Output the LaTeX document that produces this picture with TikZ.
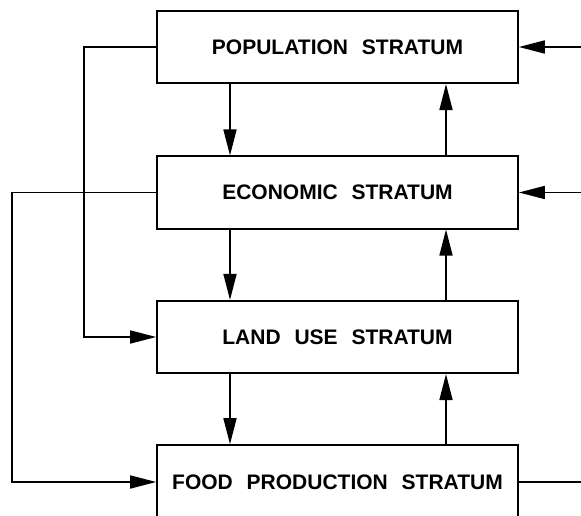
\documentclass[tikz,border=0pt]{standalone}
\usepackage{fontspec}
\setmainfont{Liberation Sans}
\usetikzlibrary{arrows.meta,calc}
\newcommand\gapW{\ \hspace{8pt}}
\begin{document}
\begin{tikzpicture}[x=1pt,y=-1pt,
  stratum/.style={draw, line width=1.6pt, minimum width=361pt, minimum height=72.5pt, inner sep=0pt,
    font=\fontsize{21}{25}\selectfont\bfseries},
  conn/.style={line width=1.6pt},
  arr/.style={conn, -{Triangle[length=26pt,width=13pt]}}]
\clip (0,0) rectangle (581,516);
\node[stratum] (pop)  at (337.5,47)    {POPULATION\gapW STRATUM};
\node[stratum] (econ) at (337.5,192.5) {ECONOMIC\gapW STRATUM};
\node[stratum] (land) at (337.5,337)   {LAND\gapW USE\gapW STRATUM};
\node[stratum, minimum height=74pt] (food) at (337.5,482) {FOOD\gapW PRODUCTION\gapW STRATUM};
\coordinate (cl) at (230,0);
\coordinate (cr) at (446,0);
\coordinate (l1) at (84,0);
\coordinate (l2) at (12,0);
\coordinate (r) at (581,0);
% vertical arrows
\draw[arr] (pop.south -| cl) -- (econ.north -| cl);
\draw[arr] (econ.north -| cr) -- (pop.south -| cr);
\draw[arr] (econ.south -| cl) -- (land.north -| cl);
\draw[arr] (land.north -| cr) -- (econ.south -| cr);
\draw[arr] (land.south -| cl) -- (food.north -| cl);
\draw[arr] (food.north -| cr) -- (land.south -| cr);
% left feedback lines
\draw[arr] (pop.west) -- (pop.west -| l1) -- (land.west -| l1) -- (land.west);
\draw[arr] (econ.west) -- (econ.west -| l2) -- (food.west -| l2) -- (food.west);
% right lines
\draw[arr] (pop.east -| r) -- (pop.east);
\draw[arr] (econ.east -| r) -- (econ.east);
\draw[conn] (food.east) -- (food.east -| r);
\end{tikzpicture}
\end{document}
